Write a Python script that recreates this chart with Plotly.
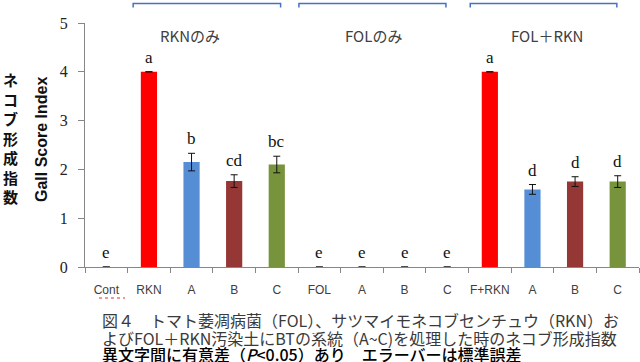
import math
import plotly.graph_objects as go

# ---- data ----
categories = ["Cont", "RKN", "A", "B", "C", "FOL", "A", "B", "C", "F+RKN", "A", "B", "C"]
gall_index = [0, 4.0, 2.15, 1.76, 2.10, 0, 0, 0, 0, 4.0, 1.59, 1.75, 1.75]
NA = float("nan")
std_error = [NA, 0, 0.18, 0.13, 0.17, NA, NA, NA, NA, 0, 0.10, 0.10, 0.12]
sig_letters = ["e", "a", "b", "cd", "bc", "e", "e", "e", "e", "a", "d", "d", "d"]
bar_colors = ["#FF0000", "#FF0000", "#558ED5", "#953735", "#77933C",
              "#FF0000", "#558ED5", "#953735", "#77933C",
              "#FF0000", "#558ED5", "#953735", "#77933C"]
group_labels = ["RKNのみ", "FOLのみ", "FOL＋RKN"]
group_label_x = [1.96, 6.26, 10.34]
brackets = [(0.63, 4.09), (4.52, 7.97), (8.54, 11.98)]
yticks = [0, 1, 2, 3, 4, 5]
caption_lines = [
    "図４　トマト萎凋病菌（FOL）、サツマイモネコブセンチュウ（RKN）お",
    "よびFOL＋RKN汚染土にBTの系統（A~C)を処理した時のネコブ形成指数",
    "異文字間に有意差（<i>P</i>&lt;0.05）あり　エラーバーは標準誤差",
]

x = list(range(len(categories)))
W, H = 640, 362
ML, MR, MT, MB = 85, 1, 23, 95
PW, PH = W - ML - MR, H - MT - MB

def px_x(p):
    return (p - ML) / PW

def px_y(p):
    return 1 - (p - MT) / PH

fig = go.Figure()
fig.add_trace(go.Bar(
    x=x, y=gall_index, width=0.38,
    marker=dict(color=bar_colors, line=dict(width=0)),
    error_y=dict(type="data", array=std_error, visible=True,
                 color="#111111", thickness=1, width=3.5),
    showlegend=False, hoverinfo="skip",
))

annotations = []
# significance letters
for xi, v, e, t in zip(x, gall_index, std_error, sig_letters):
    ee = 0 if math.isnan(e) else e
    annotations.append(dict(
        x=xi, y=v + ee, xref="x", yref="y", text=t, showarrow=False,
        yanchor="bottom", yshift=3,
        font=dict(family="Liberation Serif", size=17, color="#111111"),
    ))
# group labels
for gx, gl in zip(group_label_x, group_labels):
    annotations.append(dict(
        x=gx, y=px_y(35), xref="x", yref="paper", text=gl, showarrow=False,
        xanchor="center", yanchor="middle",
        font=dict(family="Noto Sans CJK JP", size=15, color="#404040"),
    ))
# y-axis titles
annotations.append(dict(
    x=px_x(10), y=px_y(138), xref="paper", yref="paper",
    text="<b>" + "<br>".join(list("ネコブ形成指数")) + "</b>",
    showarrow=False, xanchor="center", yanchor="middle",
    font=dict(family="Noto Sans CJK JP", size=15, color="#111111"),
))
annotations.append(dict(
    x=px_x(41), y=px_y(140), xref="paper", yref="paper",
    text="<b>Gall Score Index</b>", textangle=-90,
    showarrow=False, xanchor="center", yanchor="middle",
    font=dict(family="Liberation Sans", size=16, color="#111111"),
))
# caption
cap_y = [320, 337.5, 354]
cap_col = ["#3a3a3a", "#3a3a3a", "#000000"]
cap_w = ["normal", "normal", 500]
for ln, cy, cc, cw in zip(caption_lines, cap_y, cap_col, cap_w):
    annotations.append(dict(
        x=px_x(100), y=px_y(cy), xref="paper", yref="paper", text=ln,
        showarrow=False, xanchor="left", yanchor="middle",
        font=dict(family="Noto Sans CJK JP", size=16, color=cc, weight=cw),
    ))

shapes = []
bc = "#4472C4"
for a, b in brackets:
    shapes.append(dict(
        type="path", xref="x", yref="paper",
        path=f"M {a},{px_y(7.5)} L {a},{px_y(3.5)} L {b},{px_y(3.5)} L {b},{px_y(7.5)}",
        line=dict(color=bc, width=1.5),
    ))
# spell-check underline under "Cont"
shapes.append(dict(
    type="line", xref="paper", yref="paper",
    x0=px_x(99), x1=px_x(125), y0=px_y(298), y1=px_y(298),
    line=dict(color="#E03030", width=1, dash="dot"),
))

fig.update_layout(
    width=W, height=H,
    margin=dict(l=ML, r=MR, t=MT, b=MB),
    paper_bgcolor="white", plot_bgcolor="white",
    annotations=annotations, shapes=shapes,
    bargap=0.6,
)
fig.update_xaxes(
    range=[-0.5, len(categories) - 0.5],
    tickmode="array", tickvals=x, ticktext=categories,
    ticks="", showgrid=False, zeroline=False,
    showline=True, linecolor="#868686", linewidth=1,
    tickfont=dict(family="Liberation Sans", size=12, color="#404040"),
    ticklabelstandoff=12,
    minor=dict(tickmode="array", tickvals=[i - 0.5 for i in range(len(categories) + 1)],
               ticks="outside", ticklen=5, tickcolor="#868686", showgrid=False),
)
fig.update_yaxes(
    range=[0, 5], tickmode="array", tickvals=yticks,
    ticks="outside", ticklen=6, tickcolor="#868686",
    showgrid=False, zeroline=False,
    showline=True, linecolor="#868686", linewidth=1,
    tickfont=dict(family="Liberation Serif", size=16, color="#222222"),
    ticklabelstandoff=7,
)

fig.write_html(
    "out.html",
    config={"displayModeBar": False},
    post_script="document.body.style.margin='0';document.body.style.overflow='hidden';",
)
